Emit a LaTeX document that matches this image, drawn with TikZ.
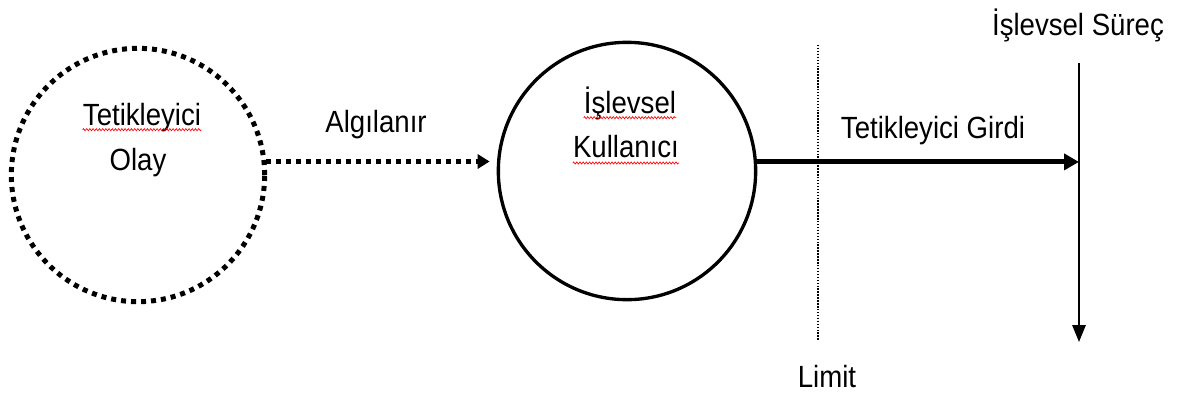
\documentclass[tikz,border=0pt]{standalone}
\usepackage{fontspec}
\setmainfont{Liberation Sans}[FakeStretch=0.9]
\usetikzlibrary{arrows.meta,decorations.pathmorphing}
\begin{document}
\begin{tikzpicture}[x=0.75pt,y=-0.75pt,
  label text/.style={inner sep=0pt, anchor=base, font=\fontsize{23}{27}\selectfont},
  event circle/.style={circle, draw, minimum size=190pt, inner sep=0pt,
    line width=3.75pt, dash pattern=on 3.75pt off 3.75pt},
  user circle/.style={circle, draw, minimum size=193pt, inner sep=0pt, line width=2.5pt},
  perceived/.style={line width=3.75pt, dash pattern=on 3.75pt off 3.75pt,
    -{Triangle[length=9pt,width=10.5pt]}},
  input arrow/.style={line width=3.75pt, -{Triangle[length=11.25pt,width=12pt]}},
  process arrow/.style={line width=1.5pt, -{Triangle[length=12.75pt,width=10pt]}},
  limit line/.style={line width=1.1pt, dash pattern=on 1.1pt off 1.1pt},
  spell mark/.style={red, line width=0.5pt, decorate,
    decoration={zigzag, amplitude=0.8pt, segment length=2.4pt}}
]
\useasboundingbox (0,0) rectangle (1179,394);

% the two circles
\node[event circle] (event) at (138,175) {};
\node[user circle] (user) at (627,171) {};

% texts
\node[label text] (evt1) at (142,125) {Tetikleyici};
\node[label text] (evt2) at (138,170) {Olay};
\node[label text] (usr1) at (630,113) {İşlevsel};
\node[label text] (usr2) at (626,157) {Kullanıcı};
\node[label text] (perc) at (376,132) {Algılanır};
\node[label text] (inp) at (933,138) {Tetikleyici Girdi};
\node[label text] (lim) at (827,387) {Limit};
\node[label text] (proc) at (1078,35) {İşlevsel Süreç};

% end points of the limit line and the process line
\coordinate (limtop) at (818,45);
\coordinate (limbot) at (818,340);
\coordinate (proctop) at (1079,63);
\coordinate (procbot) at (1079,342);

\draw[limit line] (limtop) -- (limbot);
\draw[process arrow] (proctop) -- (procbot);
\draw[perceived, shorten >=5.25pt] (event.6) -- (user.west |- event.6);
\draw[input arrow] (user.4) -- (user.4 -| proctop);

% wavy spelling marks
\draw[spell mark] ([yshift=-3.5pt]evt1.base west) -- ([yshift=-3.5pt]evt1.base east);
\draw[spell mark] ([yshift=-3.5pt]usr1.base west) -- ([yshift=-3.5pt]usr1.base east);
\draw[spell mark] ([yshift=-4.5pt]usr2.base west) -- ([yshift=-4.5pt]usr2.base east);
\end{tikzpicture}
\end{document}
